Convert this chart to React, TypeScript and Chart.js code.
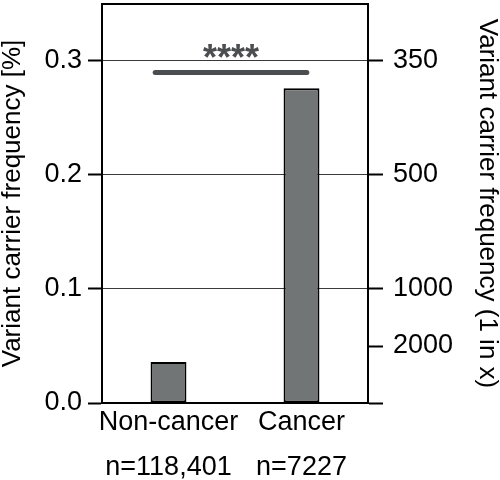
import React, { useEffect, useRef } from 'react';
import { Chart, registerables } from 'chart.js';

Chart.register(...registerables);

// ---- data ----
const categories: string[][] = [
  ['Non-cancer', '', 'n=118,401'],
  ['Cancer', '', 'n=7227'],
];
const carrierFrequencyPct: number[] = [0.036, 0.276];
const leftTickValues: number[] = [0, 0.1, 0.2, 0.3];
const rightTickValues: number[] = [0, 0.05, 0.1, 0.2, 0.3];
const rightTickLabels: string[] = ['', '2000', '1000', '500', '350'];
const yMin = 0;
const yMax = 0.35;
const significanceLabel = '****';
const sigFrom = -0.1; // category index units
const sigTo = 1.04;
const sigLevel = 0.29; // % units

const FONT = "'Liberation Sans', Arial, Helvetica, sans-serif";

const annotationPlugin = {
  id: 'annotations',
  afterDatasetsDraw(chart: any) {
    const { ctx, chartArea, scales } = chart;
    const x = scales.x;
    const y = scales.y;
    ctx.save();
    // top border of the frame
    ctx.strokeStyle = '#000';
    ctx.lineWidth = 2;
    ctx.beginPath();
    ctx.moveTo(chartArea.left - 1, chartArea.top);
    ctx.lineTo(chartArea.right + 1, chartArea.top);
    ctx.stroke();
    // significance bar
    const x0 = x.getPixelForValue(sigFrom);
    const x1 = x.getPixelForValue(sigTo);
    const yy = y.getPixelForValue(sigLevel);
    ctx.strokeStyle = '#4b4e50';
    ctx.lineWidth = 5;
    ctx.lineCap = 'round';
    ctx.beginPath();
    ctx.moveTo(x0, yy);
    ctx.lineTo(x1, yy);
    ctx.stroke();
    ctx.fillStyle = '#4b4e50';
    ctx.font = `bold 36px ${FONT}`;
    ctx.textAlign = 'center';
    ctx.textBaseline = 'alphabetic';
    ctx.fillText(significanceLabel, (x0 + x1) / 2, yy - 2);
    ctx.restore();
  },
};

export default function App() {
  const canvasRef = useRef<HTMLCanvasElement | null>(null);

  useEffect(() => {
    if (!canvasRef.current) return;
    const chart = new Chart(canvasRef.current, {
      type: 'bar',
      data: {
        labels: categories,
        datasets: [
          {
            data: carrierFrequencyPct,
            backgroundColor: '#727576',
            borderColor: '#000',
            borderWidth: 2,
            borderSkipped: false,
            categoryPercentage: 1,
            barPercentage: 0.27,
            yAxisID: 'y',
          },
        ],
      },
      options: {
        responsive: false,
        animation: false,
        layout: { padding: { top: 4, left: 0, right: 0, bottom: 0 } },
        plugins: {
          legend: { display: false },
          tooltip: { enabled: false },
        },
        scales: {
          x: {
            offset: true,
            grid: { display: false, drawTicks: false },
            border: { display: true, color: '#000', width: 2 },
            ticks: {
              color: '#000',
              font: { family: FONT, size: 27, lineHeight: 0.84 },
              padding: 8,
              maxRotation: 0,
              autoSkip: false,
            },
            afterFit: (s: any) => {
              s.height = 77;
              s.paddingLeft = 0;
              s.paddingRight = 0;
            },
          },
          y: {
            position: 'left',
            min: yMin,
            max: yMax,
            afterBuildTicks: (s: any) => {
              s.ticks = leftTickValues.map((v) => ({ value: v }));
            },
            grid: {
              color: '#3a3a3a',
              lineWidth: 1,
              tickColor: '#000',
              tickWidth: 2,
              tickLength: 14,
            },
            border: { display: true, color: '#000', width: 2 },
            ticks: {
              color: '#000',
              font: { family: FONT, size: 27 },
              padding: 6,
              callback: (v: any) => Number(v).toFixed(1),
            },
            title: {
              display: true,
              text: 'Variant carrier frequency [%]',
              color: '#000',
              font: { family: FONT, size: 26, lineHeight: 1 },
              padding: { top: 0, bottom: 0 },
            },
            afterFit: (s: any) => {
              s.width = 102;
              s.paddingTop = 0;
              s.paddingBottom = 0;
            },
          },
          y2: {
            position: 'right',
            min: yMin,
            max: yMax,
            afterBuildTicks: (s: any) => {
              s.ticks = rightTickValues.map((v) => ({ value: v }));
            },
            grid: {
              drawOnChartArea: false,
              tickColor: '#000',
              tickWidth: 2,
              tickLength: 15,
            },
            border: { display: true, color: '#000', width: 2 },
            ticks: {
              color: '#000',
              font: { family: FONT, size: 27 },
              padding: 10,
              callback: (v: any) => {
                const i = rightTickValues.findIndex((t) => Math.abs(t - Number(v)) < 1e-9);
                return i >= 0 ? rightTickLabels[i] : '';
              },
            },
            title: {
              display: true,
              text: 'Variant carrier frequency (1 in x)',
              color: '#000',
              font: { family: FONT, size: 26, lineHeight: 1 },
              padding: { top: 0, bottom: 0 },
            },
            afterFit: (s: any) => {
              s.width = 132;
              s.paddingTop = 0;
              s.paddingBottom = 0;
            },
          },
        },
      },
      plugins: [annotationPlugin],
    } as any);
    return () => chart.destroy();
  }, []);

  return (
    <div style={{ position: 'fixed', left: 0, top: 0, width: 500, height: 480, background: '#fff' }}>
      <canvas ref={canvasRef} width={500} height={480} />
    </div>
  );
}
